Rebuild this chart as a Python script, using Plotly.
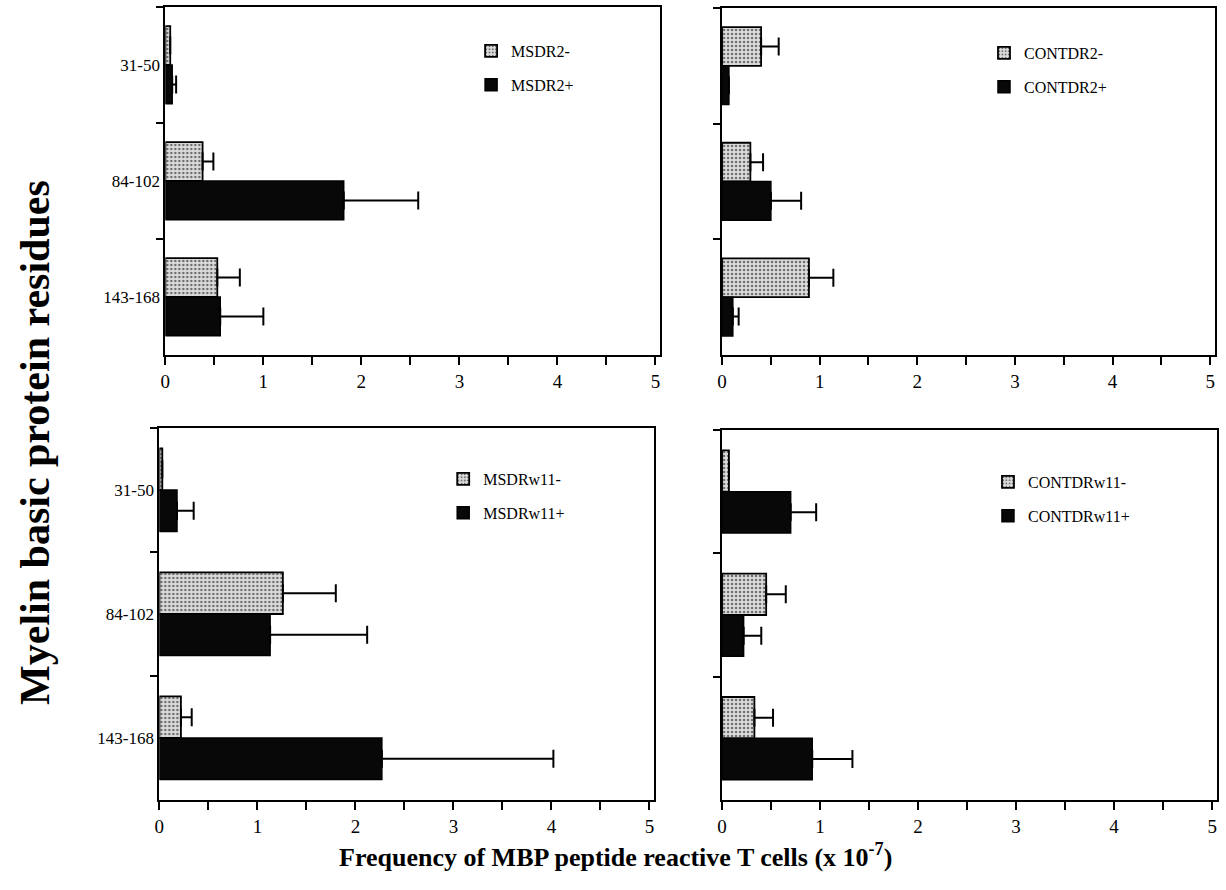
import plotly.graph_objects as go

# ---------------- data ----------------
categories = ["31-50", "84-102", "143-168"]

msdr2_neg = [0.05, 0.38, 0.53]
msdr2_neg_err = [0.00, 0.11, 0.23]
msdr2_pos = [0.07, 1.82, 0.56]
msdr2_pos_err = [0.04, 0.76, 0.44]

contdr2_neg = [0.40, 0.29, 0.89]
contdr2_neg_err = [0.18, 0.13, 0.25]
contdr2_pos = [0.07, 0.50, 0.11]
contdr2_pos_err = [0.00, 0.31, 0.06]

msdrw11_neg = [0.03, 1.26, 0.22]
msdrw11_neg_err = [0.00, 0.54, 0.11]
msdrw11_pos = [0.18, 1.13, 2.27]
msdrw11_pos_err = [0.17, 0.99, 1.75]

contdrw11_neg = [0.07, 0.45, 0.33]
contdrw11_neg_err = [0.00, 0.20, 0.19]
contdrw11_pos = [0.70, 0.22, 0.92]
contdrw11_pos_err = [0.26, 0.18, 0.41]

x_ticks = [0, 1, 2, 3, 4, 5]

FONT = "Liberation Serif, Times New Roman, serif"

panels = [
    # (names, neg, neg_err, pos, pos_err, axis suffix, legend id)
    (("MSDR2-", "MSDR2+"), msdr2_neg, msdr2_neg_err, msdr2_pos, msdr2_pos_err, "", "legend"),
    (("CONTDR2-", "CONTDR2+"), contdr2_neg, contdr2_neg_err, contdr2_pos, contdr2_pos_err, "2", "legend2"),
    (("MSDRw11-", "MSDRw11+"), msdrw11_neg, msdrw11_neg_err, msdrw11_pos, msdrw11_pos_err, "3", "legend3"),
    (("CONTDRw11-", "CONTDRw11+"), contdrw11_neg, contdrw11_neg_err, contdrw11_pos, contdrw11_pos_err, "4", "legend4"),
]

fig = go.Figure()

def err(arr):
    return dict(type="data", array=arr, arrayminus=[0] * len(arr), symmetric=False,
                color="black", thickness=2, width=9)

for names, neg, neg_e, pos, pos_e, sfx, leg in panels:
    fig.add_trace(go.Bar(
        y=categories, x=neg, orientation="h", name=names[0],
        xaxis="x" + sfx, yaxis="y" + sfx, legend=leg, legendgroup=names[0],
        marker=dict(color="#d6d6d6",
                    line=dict(color="black", width=1.8),
                    pattern=dict(shape=".", bgcolor="#dcdcdc", fgcolor="#6e6e6e",
                                 size=4, solidity=0.3, fillmode="replace")),
        error_x=err(neg_e),
    ))
    fig.add_trace(go.Bar(
        y=categories, x=pos, orientation="h", name=names[1],
        xaxis="x" + sfx, yaxis="y" + sfx, legend=leg, legendgroup=names[1],
        marker=dict(color="#080808", line=dict(color="black", width=1.5)),
        error_x=err(pos_e),
    ))

W, H = 1226, 890
def dx(a, b):
    return [a / W, b / W]
def dy(top, bottom):
    return [1 - bottom / H, 1 - top / H]

xdom = {"": dx(161, 658), "2": dx(720, 1215), "3": dx(155, 652), "4": dx(720, 1217)}
ydom = {"": dy(7, 355), "2": dy(8, 355), "3": dy(428, 800), "4": dy(430, 800)}
show_cat_labels = {"": True, "2": False, "3": True, "4": False}

layout = dict(
    width=W, height=H,
    margin=dict(l=0, r=0, t=0, b=0),
    paper_bgcolor="white", plot_bgcolor="white",
    barmode="group", bargap=0.33, bargroupgap=0.0,
    font=dict(family=FONT, color="black"),
    showlegend=True,
)

for sfx in ["", "2", "3", "4"]:
    layout["xaxis" + sfx] = dict(
        domain=xdom[sfx], anchor="y" + sfx, range=[0, 5.05],
        tickmode="array", tickvals=x_ticks,
        ticks="outside", ticklen=8, tickwidth=1.6, tickcolor="black",
        minor=dict(tickmode="linear", tick0=0, dtick=0.5, ticks="outside",
                   ticklen=8, tickwidth=1.6, tickcolor="black"),
        showline=True, linewidth=2, linecolor="black", mirror=True,
        showgrid=False, zeroline=False,
        tickfont=dict(family=FONT, size=19, color="black"),
    )
    layout["yaxis" + sfx] = dict(
        domain=ydom[sfx], anchor="x" + sfx, type="category",
        autorange="reversed", tickson="boundaries",
        ticks="outside", ticklen=7, tickwidth=1.6, tickcolor="black",
        showline=True, linewidth=2, linecolor="black", mirror=True,
        showgrid=False, zeroline=False,
        showticklabels=show_cat_labels[sfx],
        tickfont=dict(family=FONT, size=17, color="black"),
    )

leg_common = dict(xanchor="left", yanchor="top", bgcolor="rgba(0,0,0,0)",
                  font=dict(family=FONT, size=16, color="black"),
                  tracegroupgap=10, traceorder="grouped")
layout["legend"] = dict(x=468 / W, y=1 - 34 / H, **leg_common)
layout["legend2"] = dict(x=983 / W, y=1 - 36 / H, **leg_common)
layout["legend3"] = dict(x=440 / W, y=1 - 462 / H, **leg_common)
layout["legend4"] = dict(x=987 / W, y=1 - 465 / H, **leg_common)

layout["annotations"] = [
    dict(text="<b>Frequency of MBP peptide reactive T cells (x 10<sup>-7</sup>)</b>",
         x=613 / W, y=1 - 855 / H, xref="paper", yref="paper",
         xanchor="center", yanchor="middle", showarrow=False,
         font=dict(family=FONT, size=26, color="black")),
    dict(text="<b>Myelin basic protein residues</b>",
         x=30 / W, y=1 - 442 / H, xref="paper", yref="paper",
         xanchor="center", yanchor="middle", showarrow=False, textangle=-90,
         font=dict(family=FONT, size=42, color="black")),
]

fig.update_layout(**layout)
fig.write_html("out.html", config={"displayModeBar": False},
               post_script="document.body.style.margin='0';document.body.style.overflow='hidden';")
